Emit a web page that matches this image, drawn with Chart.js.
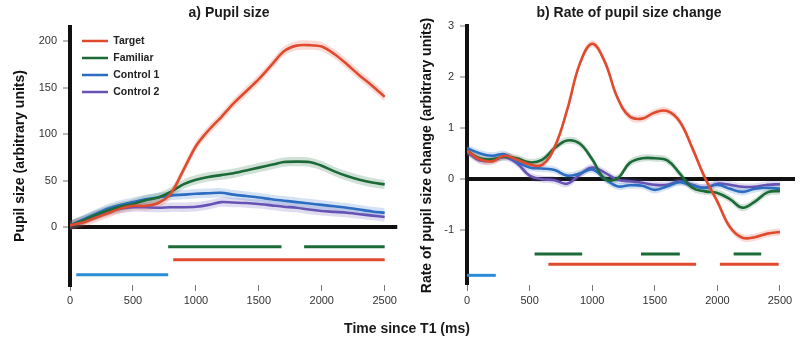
<!DOCTYPE html>
<html>
<head>
<meta charset="utf-8">
<script src="https://cdn.jsdelivr.net/npm/chart.js@4.4.0/dist/chart.umd.min.js"></script>
<style>
  body { margin: 0; background: #fff; font-family: 'Liberation Sans', Arial, sans-serif; }
  #wrap { position: relative; width: 800px; height: 337px; overflow: hidden; }
  canvas { position: absolute; top: 0; }
  .lbl { position: absolute; font-weight: bold; font-size: 14px; color: #1a1a1a; white-space: nowrap; transform: translate(-50%, -50%); }
</style>
</head>
<body>
<div id="wrap">
  <canvas id="pupil" width="400" height="337" style="left:0"></canvas>
  <canvas id="rate" width="400" height="337" style="left:400px"></canvas>
  <div class="lbl" style="left:229px;top:12px">a) Pupil size</div>
  <div class="lbl" style="left:629px;top:12px">b) Rate of pupil size change</div>
  <div class="lbl" style="left:407px;top:328px">Time since T1 (ms)</div>
</div>
<script>
// time axis (ms)
const times = [0, 100, 200, 300, 400, 500, 600, 700, 800, 900, 1000, 1100, 1200,
  1300, 1400, 1500, 1600, 1700, 1800, 1900, 2000, 2100, 2200, 2300, 2400, 2500];
const timeTicks = [0, 500, 1000, 1500, 2000, 2500];

const seriesNames = ['Target', 'Familiar', 'Control 1', 'Control 2'];
const seriesColors = ['#e04a2e', '#1b6a37', '#2c6dc2', '#6753b3'];
const sigBlue = '#2a8dd6';

// a) pupil size
const pupilTarget   = [2, 5, 10, 15, 20, 23, 23, 26, 36, 61, 87, 104, 118, 133, 146, 159, 174, 189, 195, 195.5, 194, 186, 175, 163, 152, 140];
const pupilFamiliar = [2, 7, 13, 18, 22, 25, 29, 32, 38, 46, 51, 54, 56, 58, 61, 64, 67, 70, 70.5, 70, 66, 60, 55, 51, 48, 46];
const pupilControl1 = [2, 8, 14, 20, 24, 27, 30, 32, 34, 35, 36, 36.5, 37, 35, 33.5, 32, 30, 28.5, 27, 25.5, 24, 22.5, 21, 19, 17, 15.5];
const pupilControl2 = [2, 7, 12, 17, 20, 21.5, 21.5, 21, 21.5, 21.5, 22, 24, 27, 26.5, 26, 25, 23.5, 22, 21, 19, 17.5, 16.5, 15.5, 14, 12.5, 11];
const pupilBand = [5, 5, 5, 5];
const pupilTicksY = [0, 50, 100, 150, 200];

// significance intervals (ms) for panel a
const pupilSigFamiliar = [[780, 1680], [1860, 2500]];
const pupilSigTarget   = [[820, 2500]];
const pupilSigControl  = [[50, 780]];
const pupilSigLevels   = [-21, -35, -51];

// b) rate of pupil size change
const rateTarget   = [0.55, 0.38, 0.34, 0.45, 0.37, 0.28, 0.27, 0.62, 1.35, 2.25, 2.65, 2.3, 1.6, 1.22, 1.18, 1.3, 1.33, 1.12, 0.6, 0.02, -0.45, -0.95, -1.16, -1.15, -1.08, -1.05];
const rateFamiliar = [0.55, 0.4, 0.38, 0.43, 0.4, 0.32, 0.37, 0.6, 0.75, 0.69, 0.38, 0.0, 0.0, 0.31, 0.4, 0.4, 0.36, 0.1, -0.18, -0.25, -0.28, -0.4, -0.57, -0.45, -0.27, -0.24];
const rateControl1 = [0.6, 0.5, 0.45, 0.48, 0.33, 0.22, 0.2, 0.17, 0.06, 0.1, 0.18, 0.0, -0.15, -0.13, -0.14, -0.22, -0.15, -0.07, -0.14, -0.18, -0.12, -0.2, -0.26, -0.2, -0.18, -0.2];
const rateControl2 = [0.52, 0.36, 0.36, 0.42, 0.3, 0.06, -0.01, -0.03, -0.1, 0.08, 0.22, 0.12, -0.02, -0.05, -0.08, -0.12, -0.12, -0.05, -0.12, -0.18, -0.1, -0.12, -0.16, -0.16, -0.12, -0.11];
const rateBand = [0.07, 0.07, 0.07, 0.07];
const rateTicksY = [-1, 0, 1, 2, 3];

const rateSigFamiliar = [[540, 920], [1390, 1700], [2130, 2350]];
const rateSigTarget   = [[650, 1830], [2020, 2490]];
const rateSigControl  = [[0, 230]];
const rateSigLevels   = [-1.48, -1.68, -1.9];

Chart.defaults.font.family = "'Liberation Sans', Arial, sans-serif";
Chart.defaults.animation = false;

function alpha(hex, a) {
  const n = parseInt(hex.slice(1), 16);
  return `rgba(${n >> 16},${(n >> 8) & 255},${n & 255},${a})`;
}

function buildDatasets(series, band, sigs, levels, tension) {
  const ds = [];
  series.forEach((vals, i) => {
    const col = seriesColors[i];
    ds.push({ label: '', data: times.map((t, k) => ({ x: t, y: vals[k] + band[i] })),
      borderWidth: 0, pointRadius: 0, backgroundColor: alpha(col, 0.2), fill: '+1', tension, order: 10 });
    ds.push({ label: '', data: times.map((t, k) => ({ x: t, y: vals[k] - band[i] })),
      borderWidth: 0, pointRadius: 0, fill: false, tension, order: 10 });
  });
  series.forEach((vals, i) => {
    ds.push({ label: seriesNames[i], data: times.map((t, k) => ({ x: t, y: vals[k] })),
      borderColor: seriesColors[i], backgroundColor: seriesColors[i], borderWidth: 2.6,
      pointRadius: 0, fill: false, tension, order: i + 1 });
  });
  const sigColors = [seriesColors[1], seriesColors[0], sigBlue];
  sigs.forEach((list, j) => {
    list.forEach(([a, b]) => {
      ds.push({ label: '', data: [{ x: a, y: levels[j] }, { x: b, y: levels[j] }],
        borderColor: sigColors[j], borderWidth: 3, pointRadius: 0, fill: false, order: 0 });
    });
  });
  return ds;
}

// the chartArea legend is reset to top 0 by the legend itself, move it into the plot
const nudgeLegend = {
  id: 'nudgeLegend',
  afterLayout(chart) {
    const lg = chart.legend;
    if (chart.options.plugins.legend.display && lg) {
      lg.left = chart.chartArea.left + 5.5;
      lg.top = chart.chartArea.top + 2.3;
      lg.bottom = lg.top + lg.height;
    }
  }
};

function makeChart(id, datasets, opt) {
  return new Chart(document.getElementById(id), {
    type: 'line',
    data: { datasets },
    options: {
      responsive: false,
      layout: { padding: { top: opt.top, right: opt.right, left: 0, bottom: 0 } },
      plugins: {
        tooltip: { enabled: false },
        legend: {
          display: opt.legend,
          position: 'chartArea',
          align: 'start',
          labels: {
            filter: item => item.text !== '',
            usePointStyle: true,
            pointStyle: 'line',
            pointStyleWidth: 26,
            padding: 6.5,
            color: '#222',
            font: { size: 10.5, weight: 'bold' }
          }
        }
      },
      scales: {
        x: {
          type: 'linear', min: 0, max: opt.xMax,
          afterBuildTicks: s => { s.ticks = timeTicks.map(v => ({ value: v })); },
          afterFit: s => { s.height = 52; },
          border: { display: false },
          grid: { drawOnChartArea: false, drawTicks: true, tickLength: 6, tickColor: '#777', tickWidth: 1, color: '#777' },
          ticks: { padding: 3, color: '#333', font: { size: 11 }, callback: v => String(v) }
        },
        y: {
          min: opt.yMin, max: opt.yMax,
          afterBuildTicks: s => { s.ticks = opt.yTicks.map(v => ({ value: v })); },
          afterFit: s => { s.width = opt.yWidth; },
          border: { display: true, color: '#111', width: 4 },
          grid: {
            color: c => (c.tick && c.tick.value === 0) ? '#111' : 'rgba(0,0,0,0)',
            lineWidth: c => (c.tick && c.tick.value === 0) ? 4 : 0,
            tickLength: 7, tickColor: '#777', tickWidth: 1
          },
          ticks: { padding: 6, color: '#333', font: { size: 11 }, callback: v => String(v) },
          title: {
            display: true, text: opt.yTitle, color: '#111',
            font: { size: 14, weight: 'bold' },
            padding: { top: opt.titlePad, bottom: 0 }
          }
        }
      }
    },
    plugins: [nudgeLegend]
  });
}

makeChart('pupil',
  buildDatasets([pupilTarget, pupilFamiliar, pupilControl1, pupilControl2], pupilBand,
    [pupilSigFamiliar, pupilSigTarget, pupilSigControl], pupilSigLevels, 0.3),
  { top: 27, right: 2, xMax: 2600, yMin: -62, yMax: 215, yTicks: pupilTicksY, yWidth: 70,
    yTitle: 'Pupil size (arbitrary units)', titlePad: 11.6, legend: true });

makeChart('rate',
  buildDatasets([rateTarget, rateFamiliar, rateControl1, rateControl2], rateBand,
    [rateSigFamiliar, rateSigTarget, rateSigControl], rateSigLevels, 0.4),
  { top: 26, right: 5, xMax: 2620, yMin: -2.09, yMax: 3, yTicks: rateTicksY, yWidth: 67,
    yTitle: 'Rate of pupil size change (arbitrary units)', titlePad: 18.6, legend: false });
</script>
</body>
</html>
